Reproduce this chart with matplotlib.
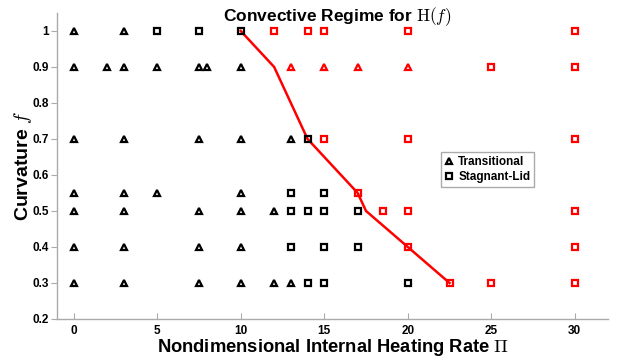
import matplotlib
matplotlib.use("Agg")
import matplotlib.pyplot as plt
from matplotlib.lines import Line2D

# Transitional (black triangles)
trans_black_x = [0, 3,
                 0, 2, 3, 5, 7.5, 8, 10,
                 0, 3, 7.5, 10, 13,
                 0, 3, 5, 10,
                 0, 3, 7.5, 10, 12,
                 0, 3, 7.5, 10,
                 0, 3, 7.5, 10, 12, 13]
trans_black_y = [1, 1,
                 0.9, 0.9, 0.9, 0.9, 0.9, 0.9, 0.9,
                 0.7, 0.7, 0.7, 0.7, 0.7,
                 0.55, 0.55, 0.55, 0.55,
                 0.5, 0.5, 0.5, 0.5, 0.5,
                 0.4, 0.4, 0.4, 0.4,
                 0.3, 0.3, 0.3, 0.3, 0.3, 0.3]
# Transitional (red triangles)
trans_red_x = [13, 15, 17, 20]
trans_red_y = [0.9, 0.9, 0.9, 0.9]
# Stagnant-lid (black squares)
stag_black_x = [5, 7.5, 10, 14, 13, 15, 13, 14, 15, 17, 13, 15, 17, 14, 15, 20]
stag_black_y = [1, 1, 1, 0.7, 0.55, 0.55, 0.5, 0.5, 0.5, 0.5, 0.4, 0.4, 0.4, 0.3, 0.3, 0.3]
# Stagnant-lid (red squares)
stag_red_x = [12, 14, 15, 20, 30, 25, 30, 15, 20, 30, 17, 18.5, 20, 30, 20, 30, 22.5, 25, 30]
stag_red_y = [1, 1, 1, 1, 1, 0.9, 0.9, 0.7, 0.7, 0.7, 0.55, 0.5, 0.5, 0.5, 0.4, 0.4, 0.3, 0.3, 0.3]
# Regime boundary
boundary_x = [10, 12, 14, 17, 17.5, 20, 22.5]
boundary_y = [1.0, 0.9, 0.7, 0.55, 0.5, 0.4, 0.3]

x_ticks = [0, 5, 10, 15, 20, 25, 30]
y_ticks = [0.2, 0.3, 0.4, 0.5, 0.6, 0.7, 0.8, 0.9, 1.0]
y_ticklabels = ["0.2", "0.3", "0.4", "0.5", "0.6", "0.7", "0.8", "0.9", "1"]

plt.rcParams['font.family'] = ['Liberation Sans', 'DejaVu Sans']
plt.rcParams['font.weight'] = 'bold'
plt.rcParams['mathtext.fontset'] = 'cm'

fig = plt.figure(figsize=(6.18, 3.6), dpi=100)
ax = fig.add_axes([0.0922, 0.114, 0.892, 0.85])

ax.plot(boundary_x, boundary_y, color='#ff0000', lw=1.8, zorder=2)
mk = dict(linestyle='none', markerfacecolor='none', markersize=4.8, markeredgewidth=1.6, zorder=3)
ax.plot(trans_black_x, trans_black_y, marker='^', markeredgecolor='black', **mk)
ax.plot(trans_red_x, trans_red_y, marker='^', markeredgecolor='#ff0000', **mk)
ax.plot(stag_black_x, stag_black_y, marker='s', markeredgecolor='black', **mk)
ax.plot(stag_red_x, stag_red_y, marker='s', markeredgecolor='#ff0000', **mk)

ax.set_xlim(-1, 32)
ax.set_ylim(0.2, 1.05)
ax.set_xticks(x_ticks)
ax.set_yticks(y_ticks)
ax.set_yticklabels(y_ticklabels)

for s in ['top', 'right']:
    ax.spines[s].set_visible(False)
for s in ['left', 'bottom']:
    ax.spines[s].set_color('#aaaaaa')
    ax.spines[s].set_linewidth(1.0)
ax.tick_params(axis='y', direction='out', length=4, color='#aaaaaa', labelsize=8.5, pad=2)
ax.tick_params(axis='x', direction='in', length=4, color='#aaaaaa', labelsize=8.5, pad=4)
for lab in ax.get_xticklabels() + ax.get_yticklabels():
    lab.set_fontweight('bold')

ax.set_xlabel(r'Nondimensional Internal Heating Rate $\Pi$', fontsize=13.2, fontweight='bold', labelpad=0)
ax.set_ylabel(r'Curvature $f$', fontsize=14, fontweight='bold', labelpad=-1)
fig.text(0.545, 0.955, r'Convective Regime for $\mathrm{H}(f)$', fontsize=12.5, fontweight='bold',
         ha='center', va='center')

handles = [Line2D([], [], marker='^', linestyle='none', markerfacecolor='none', markeredgecolor='black',
                  markersize=4.8, markeredgewidth=1.6),
           Line2D([], [], marker='s', linestyle='none', markerfacecolor='none', markeredgecolor='black',
                  markersize=4.8, markeredgewidth=1.6)]
leg = ax.legend(handles, ['Transitional', 'Stagnant-Lid'], loc='upper left', bbox_to_anchor=(0.696, 0.545),
                fancybox=False, framealpha=1, edgecolor='#aaaaaa', fontsize=8.5, handlelength=0.8,
                handletextpad=0.4, borderpad=0.3, labelspacing=0.3, borderaxespad=0)
leg.get_frame().set_linewidth(1.0)
for t in leg.get_texts():
    t.set_fontweight('bold')

fig.savefig('out.png', dpi=100)
